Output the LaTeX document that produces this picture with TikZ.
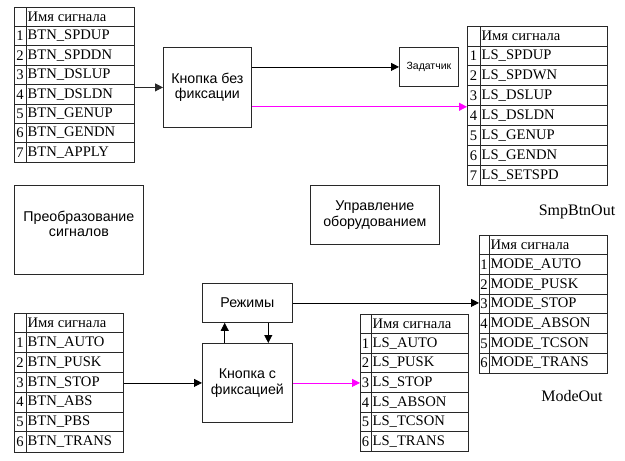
\documentclass[tikz,border=0pt]{standalone}
\usepackage{fontspec}
\setmainfont{Liberation Serif}
\newfontfamily\arialf{Liberation Sans}
\usetikzlibrary{arrows.meta,calc}
\definecolor{mag}{RGB}{255,0,255}
\definecolor{lc}{RGB}{40,40,40}
\newcommand\sigtab[7]{% #1 name #2 left #3 top #4 divider #5 right #6 row height #7 list
  \foreach \txt [count=\ii] in {#7}{%
    \draw[tabline] (#2,#3+\ii*#6) -- (#5,#3+\ii*#6);
    \node[celltxt, anchor=center] (#1-n\ii) at ({(#2+#4)/2},{#3+\ii*#6+#6/2}) {\ii};
    \node[celltxt, anchor=west] (#1-\ii) at (#4,{#3+\ii*#6+#6/2}) {\txt};
    \xdef\lastrow{\ii}%
  }
  \node[celltxt, anchor=west] (#1-h) at (#4,{#3+#6/2}) {Имя сигнала};
  \draw[tabline] (#4,#3) -- (#4,{#3+(\lastrow+1)*#6});
  \node[tabline, draw, anchor=north west, inner sep=0pt,
        minimum width={(#5-#2)*1pt}, minimum height={(\lastrow+1)*#6*1pt}] (#1) at (#2,#3) {};
}
\begin{document}
\begin{tikzpicture}[x=1pt,y=-1pt,
  tabline/.style={draw=lc, line width=0.8pt},
  celltxt/.style={font=\fontsize{14.6}{16}\selectfont, inner sep=1.5pt, text=black},
  blk/.style={draw=lc, line width=0.8pt, anchor=north west, inner sep=0pt, align=center,
     font=\arialf\fontsize{14.2}{15.5}\selectfont},
  conn/.style={line width=0.8pt, -{Triangle[length=8pt,width=8pt]}},
  lbl/.style={font=\fontsize{16}{18}\selectfont}
]
\useasboundingbox (0,0) rectangle (625,461);

\sigtab{t1}{14}{7}{26}{134}{19.4}{BTN\_SPDUP,BTN\_SPDDN,BTN\_DSLUP,BTN\_DSLDN,BTN\_GENUP,BTN\_GENDN,BTN\_APPLY}
\sigtab{t2}{467}{26}{480}{607}{19.9}{LS\_SPDUP,LS\_SPDWN,LS\_DSLUP,LS\_DSLDN,LS\_GENUP,LS\_GENDN,LS\_SETSPD}
\sigtab{t3}{14}{313}{26}{123}{19.8}{BTN\_AUTO,BTN\_PUSK,BTN\_STOP,BTN\_ABS,BTN\_PBS,BTN\_TRANS}
\sigtab{t4}{479}{235}{489}{607}{19.7}{MODE\_AUTO,MODE\_PUSK,MODE\_STOP,MODE\_ABSON,MODE\_TCSON,MODE\_TRANS}
\sigtab{t5}{360}{314}{371}{468}{19.6}{LS\_AUTO,LS\_PUSK,LS\_STOP,LS\_ABSON,LS\_TCSON,LS\_TRANS}

\node[blk, minimum width=88pt, minimum height=80pt] (kb) at (163,47) {Кнопка без\\фиксации};
\node[blk, minimum width=59pt, minimum height=39pt, font=\arialf\fontsize{10.5}{12}\selectfont] (zad) at (399,47) {Задатчик};
\node[blk, minimum width=129pt, minimum height=89pt] (pre) at (14,185) {Преобразование\\сигналов\\[-3.5pt]};
\node[blk, minimum width=129pt, minimum height=59pt] (upr) at (310,185) {Управление\\оборудованием};
\node[blk, minimum width=90pt, minimum height=39pt] (rez) at (202,283) {Режимы};
\node[blk, minimum width=90pt, minimum height=79pt] (kf) at (202,343) {Кнопка с\\фиксацией};

\node[lbl] (smp) at (577,212) {SmpBtnOut};
\node[lbl] (mo) at (572,396) {ModeOut};

% connectors
\draw[conn, draw=lc] (kb.west -| t1.east) -- (kb.west);
\draw[conn, draw=black] (zad.west -| kb.east) -- (zad.west);
\coordinate (kbm) at ($(kb.north east)!0.74!(kb.south east)$);
\draw[conn, draw=mag, fill=mag] (kbm) -- (kbm -| t2.west);
\draw[conn, draw=black] (kf.west -| t3.east) -- (kf.west);
\draw[conn, draw=black] (rez.east) -- (rez.east -| t4.west);
\draw[conn, draw=mag] (kf.east) -- (kf.east -| t5.west);
\coordinate (kfu) at ($(kf.north west)!0.25!(kf.north east)$);
\coordinate (kfd) at ($(kf.north west)!0.73!(kf.north east)$);
\draw[conn, draw=black] (kfu) -- (kfu |- rez.south);
\draw[conn, draw=black] (kfd |- rez.south) -- (kfd);
\end{tikzpicture}
\end{document}
